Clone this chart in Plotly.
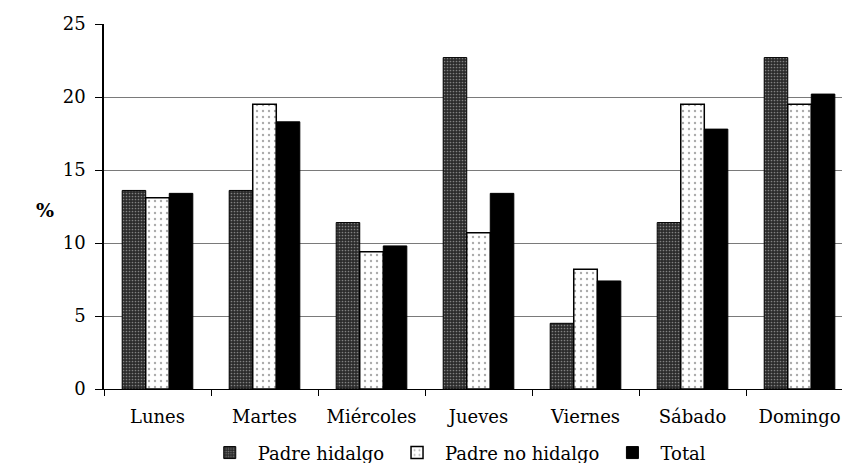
import plotly.graph_objects as go

dias = ["Lunes", "Martes", "Miércoles", "Jueves", "Viernes", "Sábado", "Domingo"]
padre_hidalgo = [13.6, 13.6, 11.4, 22.7, 4.5, 11.4, 22.7]
padre_no_hidalgo = [13.1, 19.5, 9.4, 10.7, 8.2, 19.5, 19.5]
total = [13.4, 18.3, 9.8, 13.4, 7.4, 17.8, 20.2]
y_ticks = [0, 5, 10, 15, 20, 25]

FONT = "DejaVu Serif"

fig = go.Figure()
fig.add_trace(go.Bar(
    x=dias, y=padre_hidalgo, name="Padre hidalgo",
    marker=dict(color="#2b2b2b", line=dict(color="black", width=1),
                pattern=dict(shape=".", fgcolor="#d8d8d8", bgcolor="#2b2b2b",
                             size=3, solidity=0.25)),
))
fig.add_trace(go.Bar(
    x=dias, y=padre_no_hidalgo, name="Padre no hidalgo",
    marker=dict(color="white", line=dict(color="black", width=1.5),
                pattern=dict(shape=".", fgcolor="#555555", bgcolor="white",
                             size=6, solidity=0.12)),
))
fig.add_trace(go.Bar(
    x=dias, y=total, name="Total",
    marker=dict(color="black", line=dict(color="black", width=1)),
))

# page body has an 8px default margin; keep the figure inside the window
fig.update_layout(
    width=834, height=455,
    margin=dict(l=96, r=0, t=16, b=74, autoexpand=False),
    paper_bgcolor="white", plot_bgcolor="white",
    barmode="group", bargap=0.34, bargroupgap=0,
    font=dict(family=FONT, size=18, color="black"),
    showlegend=True,
    legend=dict(orientation="h", x=0.478, xanchor="center", y=-0.175, yanchor="middle",
                font=dict(family=FONT, size=18, color="black"),
                itemwidth=46, traceorder="normal"),
    annotations=[dict(text="<b>%</b>", x=-0.08, y=0.49, xref="paper", yref="paper",
                      xanchor="center", yanchor="middle", showarrow=False,
                      font=dict(family=FONT, size=19, color="black"))],
)

fig.update_xaxes(
    range=[-0.5, 6.397], showline=True, linecolor="black", linewidth=1,
    ticks="outside", tickson="boundaries", ticklen=6, tickcolor="black",
    showgrid=False, automargin=False, ticklabelstandoff=11,
    tickfont=dict(family=FONT, size=18, color="black"),
)
fig.update_yaxes(
    range=[0, 25], tickvals=y_ticks, showline=True, linecolor="black", linewidth=1.5,
    ticks="outside", ticklen=7, tickcolor="black", automargin=False,
    ticklabelstandoff=6,
    showgrid=True, gridcolor="#7a7a7a", gridwidth=1, zeroline=False,
    tickfont=dict(family=FONT, size=18, color="black"),
)

fig.write_html("out.html")
